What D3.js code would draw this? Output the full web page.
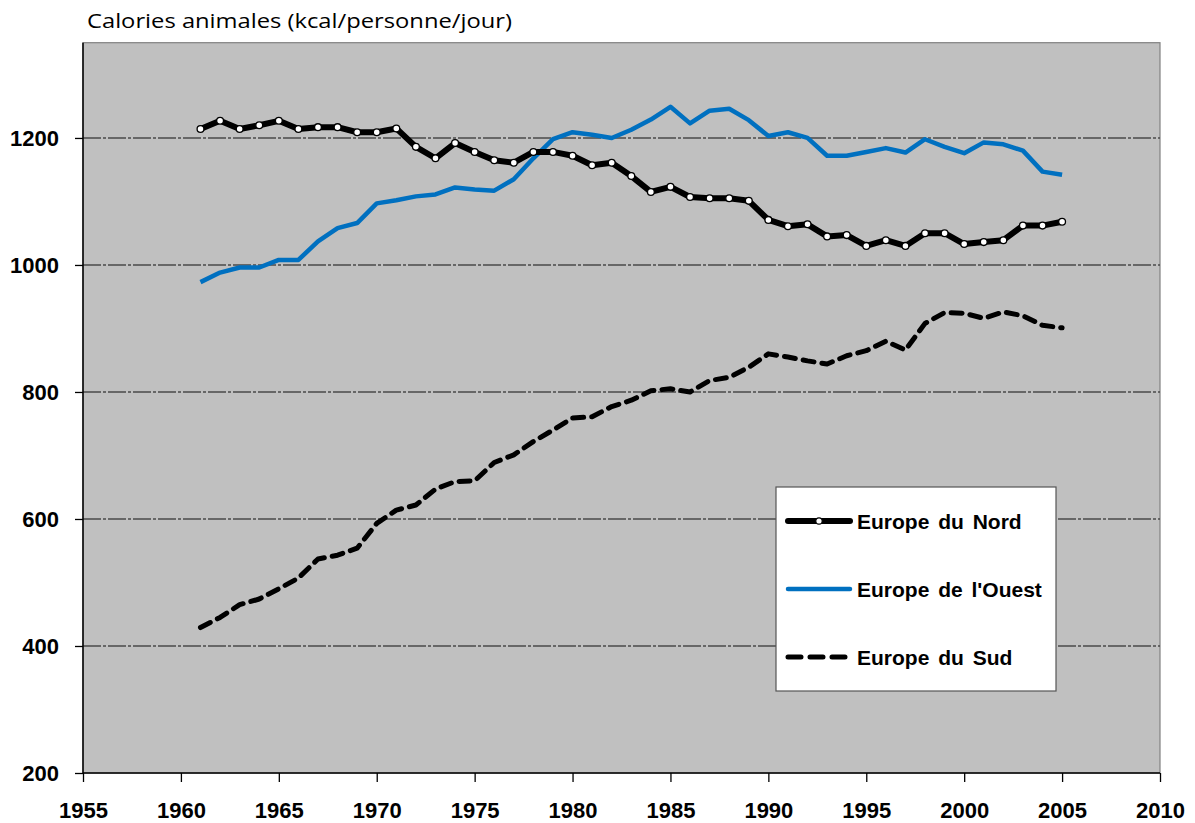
<!DOCTYPE html>
<html><head><meta charset="utf-8">
<script src="https://cdn.jsdelivr.net/npm/d3@7"></script>
<style>body{margin:0;background:#fff;} svg{display:block;}</style>
</head><body>
<svg id="c" width="1195" height="823"></svg>
<script>
const years = d3.range(1961, 2006);
const nord = [1214,1227,1214,1220,1227,1214,1217,1217,1209,1209,1215,1186,1168,1192,1178,1165,1161,1178,1178,1172,1157,1161,1140,1115,1123,1107,1105,1105,1101,1071,1061,1064,1045,1047,1030,1039,1030,1050,1050,1033,1036,1039,1062,1062,1068];
const ouest = [973,988,996,996,1008,1008,1037,1058,1066,1097,1102,1108,1111,1122,1119,1117,1135,1168,1198,1209,1205,1200,1213,1229,1249,1223,1243,1246,1228,1203,1209,1200,1172,1172,1178,1184,1177,1198,1186,1176,1193,1190,1180,1147,1142];
const sud = [429,445,465,474,490,507,537,543,554,593,614,622,647,659,660,689,701,722,740,759,761,777,787,802,805,800,818,823,839,860,855,849,844,857,865,880,866,908,925,924,916,926,920,905,901];
const xTicks = [1955,1960,1965,1970,1975,1980,1985,1990,1995,2000,2005,2010];
const yTicks = [200,400,600,800,1000,1200];
const seriesNames = ["Europe du Nord","Europe de l'Ouest","Europe du Sud"];
const title = "Calories animales (kcal/personne/jour)";

const svg = d3.select("#c");
const L = 83, R = 1160, T = 42.7, B = 773;
const x = d3.scaleLinear().domain([1955, 2010]).range([L, R]);
const y = d3.scaleLinear().domain([200, 1350]).range([B, T]);

svg.append("rect").attr("x", L).attr("y", T).attr("width", R - L).attr("height", B - T)
  .attr("fill", "#c0c0c0").attr("stroke", "#808080").attr("stroke-width", 1.2);

// gridlines
svg.append("g").selectAll("line").data(yTicks.filter(d => d > 200)).join("line")
  .attr("x1", L).attr("x2", R).attr("y1", d => y(d)).attr("y2", d => y(d))
  .attr("stroke", "#4a4a4a").attr("stroke-width", 1.4).attr("stroke-dasharray", "18,2,3,2");

// axes
const yAxis = svg.append("g").attr("transform", `translate(${L},0)`)
  .call(d3.axisLeft(y).tickValues(yTicks).tickSize(8).tickPadding(16).tickFormat(d3.format("d")));
const xAxis = svg.append("g").attr("transform", `translate(0,${B})`)
  .call(d3.axisBottom(x).tickValues(xTicks).tickSize(9).tickPadding(20).tickFormat(d3.format("d")));
[yAxis, xAxis].forEach(a => {
  a.select(".domain").attr("stroke", "#000").attr("stroke-width", 1.5);
  a.selectAll(".tick line").attr("stroke", "#000").attr("stroke-width", 1.3);
  a.selectAll("text").attr("font-family", "Liberation Sans, Arial, sans-serif")
    .attr("font-weight", "bold").attr("font-size", 22).attr("fill", "#000");
});
yAxis.select(".domain").attr("d", `M0,${B}V${T}`);
xAxis.select(".domain").attr("d", `M${L},0H${R}`);
yAxis.selectAll(".tick text").attr("dy", "0.36em");

const line = d3.line().x((d, i) => x(years[i])).y(d => y(d));

svg.append("path").datum(sud).attr("d", line).attr("fill", "none")
  .attr("stroke", "#000").attr("stroke-width", 5).attr("stroke-dasharray", "11,8")
  .attr("stroke-linecap", "round").attr("stroke-linejoin", "round");
svg.append("path").datum(ouest).attr("d", line).attr("fill", "none")
  .attr("stroke", "#0070c0").attr("stroke-width", 4.5).attr("stroke-linejoin", "round");
svg.append("path").datum(nord).attr("d", line).attr("fill", "none")
  .attr("stroke", "#000").attr("stroke-width", 6).attr("stroke-linejoin", "round");
svg.append("g").selectAll("circle").data(nord).join("circle")
  .attr("cx", (d, i) => x(years[i])).attr("cy", d => y(d)).attr("r", 3.4)
  .attr("fill", "#fff").attr("stroke", "#000").attr("stroke-width", 1.3);

// title
svg.append("text").attr("x", 87).attr("y", 28).text(title)
  .attr("font-family", "Open Sans, sans-serif").attr("font-size", 20).attr("fill", "#000")
  .attr("textLength", 425).attr("lengthAdjust", "spacingAndGlyphs");

// legend
const lg = svg.append("g");
lg.append("rect").attr("x", 776).attr("y", 487).attr("width", 280).attr("height", 204)
  .attr("fill", "#fff").attr("stroke", "#555").attr("stroke-width", 1.2);
const ly = [521, 589, 657];
const styles = [
  {c: "#000", w: 6, dash: null},
  {c: "#0070c0", w: 4.5, dash: null},
  {c: "#000", w: 5, dash: "13,9"}
];
seriesNames.forEach((n, i) => {
  const s = styles[i];
  const l = lg.append("line").attr("x1", 788).attr("x2", 850).attr("y1", ly[i]).attr("y2", ly[i])
    .attr("stroke", s.c).attr("stroke-width", s.w).attr("stroke-linecap", "round");
  if (s.dash) l.attr("stroke-dasharray", s.dash);
  if (i === 0) lg.append("circle").attr("cx", 819).attr("cy", ly[i]).attr("r", 3.2)
    .attr("fill", "#fff").attr("stroke", "#000").attr("stroke-width", 1.2);
  lg.append("text").attr("x", 857).attr("y", ly[i]).attr("dy", "0.36em").text(n)
    .attr("font-family", "Liberation Sans, Arial, sans-serif").attr("font-weight", "bold")
    .attr("font-size", 21).attr("fill", "#000").attr("word-spacing", 3);
});
</script>
</body></html>
